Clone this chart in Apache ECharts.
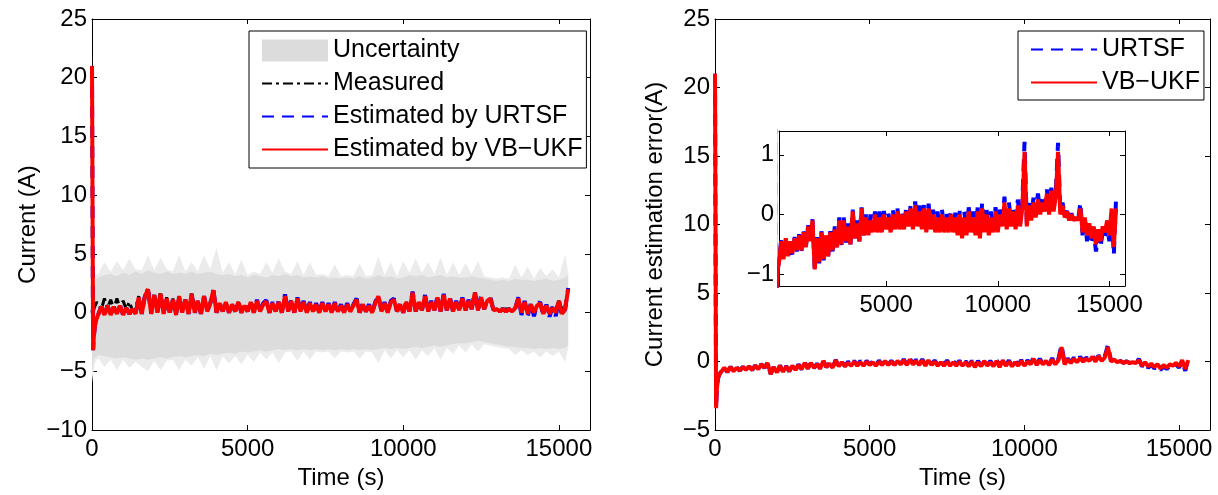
<!DOCTYPE html>
<html>
<head>
<meta charset="utf-8">
<script src="https://cdn.jsdelivr.net/npm/echarts@6/dist/echarts.min.js"></script>
<style>
  html, body { margin: 0; padding: 0; background: #fff; }
  #main { width: 1218px; height: 495px; }
</style>
</head>
<body>
<div id="main"></div>
<script>
var FONT = 'Liberation Sans, Arial, Helvetica, sans-serif';

// sample times (s) for the estimate / measurement curves
var time = [0, 15, 35, 60, 100, 150,
  200, 300, 400, 500, 600, 700, 800, 900, 1000, 1100,
  1200, 1300, 1400, 1500, 1600, 1700, 1800, 1900, 2000, 2100,
  2200, 2300, 2400, 2500, 2600, 2700, 2800, 2900, 3000, 3100,
  3200, 3300, 3400, 3500, 3600, 3700, 3800, 3900, 4000, 4100,
  4200, 4300, 4400, 4500, 4600, 4700, 4800, 4900, 5000, 5100,
  5200, 5300, 5400, 5500, 5600, 5700, 5800, 5900, 6000, 6100,
  6200, 6300, 6400, 6500, 6600, 6700, 6800, 6900, 7000, 7100,
  7200, 7300, 7400, 7500, 7600, 7700, 7800, 7900, 8000, 8100,
  8200, 8300, 8400, 8500, 8600, 8700, 8800, 8900, 9000, 9100,
  9200, 9300, 9400, 9500, 9600, 9700, 9800, 9900, 10000, 10100,
  10200, 10300, 10400, 10500, 10600, 10700, 10800, 10900, 11000, 11100,
  11200, 11300, 11400, 11500, 11600, 11700, 11800, 11900, 12000, 12100,
  12200, 12300, 12400, 12500, 12600, 12700, 12800, 12900, 13000, 13100,
  13200, 13300, 13400, 13500, 13600, 13700, 13800, 13900, 14000, 14100,
  14200, 14300, 14400, 14500, 14600, 14700, 14800, 14900, 15000, 15100,
  15200, 15300];

// left panel: current (A)
var measured = [0.0, 0.3, -0.5, 0.3, 0.6, 0.9,
  1.0, 0.3, 1.2, 0.4, 1.1, 0.3, 1.2, 0.4, 1.0, 0.3,
  0.9, 0.2, 0.3, 1.4, 0.2, 1.5, 2.1, 0.1, 1.6, 0.2,
  1.8, 0.1, 1.3, 0.2, 1.2, 0.0, 1.4, 0.1, 1.1, 0.0,
  1.6, 0.1, 1.0, 0.0, 1.4, 0.2, 0.8, 1.9, 0.1, 0.8,
  0.1, 0.9, 0.0, 0.7, 0.1, 0.9, 0.0, 0.6, 0.1, 0.9,
  0.0, 1.0, 0.1, 0.7, 0.95, 0.0, 0.8, 0.1, 0.9, 0.0,
  1.4, 0.1, 1.0, 0.0, 1.2, 0.1, 0.9, 0.0, 0.8, 0.1,
  0.7, 0.0, 0.8, 0.1, 0.7, 0.0, 0.8, 0.1, 0.6, 0.0,
  0.7, 0.1, 0.6, 1.1, 0.0, 0.7, 0.1, 0.6, 0.0, 0.8,
  1.4, 0.1, 0.8, 0.0, 0.9, 1.1, 0.1, 0.7, 0.0, 0.9,
  0.1, 1.7, 0.1, 0.9, 0.2, 1.4, 0.1, 0.9, 0.2, 1.3,
  0.1, 1.5, 0.2, 1.2, 0.1, 0.9, 0.2, 1.2, 0.2, 1.0,
  0.3, 1.7, 0.2, 1.3, 0.3, 1.0, 1.2, 0.2, 0.3, 0.3,
  0.3, 0.3, 0.3, 0.3, 0.4, 1.2, 0.1, 0.9, 0.1, 0.7,
  0.2, 0.6, 0.8, 0.3, 0.6, 0.3, 0.4, 0.3, 1.0, 0.3,
  0.3, 2.0];

var estURTSF = [21, 21, -3.2, -2.0, -1.0, -0.5,
  -0.4, 0.5, -0.2, 0.6, -0.2, 0.5, -0.1, 0.6, -0.2, 0.4,
  -0.1, 0.3, -0.1, 1.3, -0.1, 1.4, 2.0, -0.1, 1.5, 0.0,
  1.6, -0.1, 1.2, 0.0, 1.1, -0.2, 1.4, 0.0, 1.1, -0.1,
  1.6, 0.0, 1.0, -0.1, 1.4, 0.1, 0.8, 1.9, 0.0, 0.9,
  0.1, 1.0, 0.0, 0.8, 0.1, 1.0, 0.0, 0.7, 0.1, 1.0,
  0.0, 1.1, 0.1, 0.8, 1.05, 0.0, 0.9, 0.1, 1.0, 0.0,
  1.55, 0.1, 1.1, 0.0, 1.3, 0.1, 1.0, 0.0, 0.9, 0.1,
  0.8, 0.0, 0.9, 0.1, 0.8, 0.0, 0.9, 0.1, 0.7, 0.0,
  0.8, 0.1, 0.7, 1.2, 0.0, 0.8, 0.1, 0.7, 0.0, 0.9,
  1.5, 0.1, 0.9, 0.0, 1.0, 1.2, 0.1, 0.8, 0.0, 1.0,
  0.1, 1.8, 0.1, 1.0, 0.2, 1.5, 0.1, 1.0, 0.2, 1.4,
  0.1, 1.6, 0.2, 1.3, 0.1, 1.0, 0.2, 1.3, 0.2, 1.1,
  0.3, 1.8, 0.2, 1.4, 0.3, 1.1, 1.3, 0.2, 0.3, 0.1,
  0.3, 0.1, 0.3, 0.1, 0.4, 1.3, -0.2, 1.0, -0.3, 0.8,
  -0.3, 0.7, 0.9, -0.3, 0.7, -0.35, 0.5, -0.3, 1.1, -0.3,
  0.3, 2.1];

var estVBUKF = [21, 21, -3.2, -2.0, -1.0, -0.5,
  -0.4, 0.5, -0.2, 0.6, -0.2, 0.5, -0.1, 0.6, -0.2, 0.4,
  -0.1, 0.3, -0.1, 1.3, -0.1, 1.4, 2.0, -0.1, 1.5, 0.0,
  1.6, -0.1, 1.2, 0.0, 1.1, -0.2, 1.4, 0.0, 1.1, -0.1,
  1.6, 0.0, 1.0, -0.1, 1.4, 0.1, 0.8, 1.9, 0.0, 0.8,
  0.1, 0.9, 0.0, 0.7, 0.1, 0.9, 0.0, 0.6, 0.1, 0.9,
  0.0, 1.0, 0.1, 0.7, 0.95, 0.0, 0.8, 0.1, 0.9, 0.0,
  1.4, 0.1, 1.0, 0.0, 1.2, 0.1, 0.9, 0.0, 0.8, 0.1,
  0.7, 0.0, 0.8, 0.1, 0.7, 0.0, 0.8, 0.1, 0.6, 0.0,
  0.7, 0.1, 0.6, 1.1, 0.0, 0.7, 0.1, 0.6, 0.0, 0.8,
  1.4, 0.1, 0.8, 0.0, 0.9, 1.1, 0.1, 0.7, 0.0, 0.9,
  0.1, 1.7, 0.1, 0.9, 0.2, 1.4, 0.1, 0.9, 0.2, 1.3,
  0.1, 1.5, 0.2, 1.2, 0.1, 0.9, 0.2, 1.2, 0.2, 1.0,
  0.3, 1.7, 0.2, 1.3, 0.3, 1.0, 1.2, 0.2, 0.3, 0.1,
  0.3, 0.1, 0.3, 0.1, 0.4, 1.2, 0.0, 0.9, -0.1, 0.7,
  0.0, 0.6, 0.8, -0.1, 0.6, -0.1, 0.4, 0.0, 1.0, -0.1,
  0.3, 2.0];

// uncertainty band, sampled more coarsely
var bandTime = [0, 20, 50, 100,
  200, 400, 600, 800, 1000, 1200, 1400, 1600, 1800, 2000,
  2200, 2400, 2600, 2800, 3000, 3200, 3400, 3600, 3800, 4000,
  4200, 4400, 4600, 4800, 5000, 5200, 5400, 5600, 5800, 6000,
  6200, 6400, 6600, 6800, 7000, 7200, 7400, 7600, 7800, 8000,
  8200, 8400, 8600, 8800, 9000, 9200, 9400, 9600, 9800, 10000,
  10200, 10400, 10600, 10800, 11000, 11200, 11400, 11600, 11800, 12000,
  12200, 12400, 12600, 12800, 13000, 13200, 13400, 13600, 13800, 14000,
  14200, 14400, 14600, 14800, 15000, 15200, 15300];

var bandInnerHi = [22, 4, 3, 2.8,
  3.0, 3.2, 3.3, 3.1, 3.4, 3.2, 3.5, 3.3, 3.6, 3.4,
  3.3, 3.5, 3.3, 3.4, 3.3, 3.5, 3.3, 3.4, 3.5, 3.3,
  3.2, 3.3, 3.1, 3.2, 3.0, 3.2, 3.1, 3.0, 3.2, 3.1,
  3.3, 3.1, 3.2, 3.0, 3.1, 3.0, 3.1, 2.9, 3.0, 2.9,
  3.0, 2.9, 3.1, 2.9, 3.0, 3.2, 3.0, 3.1, 2.9, 3.0,
  3.2, 3.1, 3.2, 3.0, 3.1, 3.2, 3.0, 3.1, 3.0, 3.0,
  3.1, 3.0, 2.9, 2.8, 2.7, 2.8, 2.7, 2.9, 2.8, 2.8,
  2.7, 2.8, 2.9, 2.7, 2.8, 3.0, 3.2];

var bandInnerLo = [-5.5, -4.5, -4.0, -3.8,
  -3.6, -3.7, -3.8, -3.9, -3.8, -3.9, -4.0, -3.9, -4.0, -3.9,
  -3.8, -3.9, -3.8, -3.7, -3.8, -3.7, -3.6, -3.7, -3.5, -3.6,
  -3.5, -3.4, -3.5, -3.3, -3.4, -3.3, -3.2, -3.3, -3.2, -3.1,
  -3.2, -3.1, -3.2, -3.1, -3.2, -3.1, -3.2, -3.1, -3.2, -3.1,
  -3.2, -3.1, -3.2, -3.1, -3.2, -3.1, -3.0, -3.1, -3.0, -3.1,
  -3.0, -2.9, -3.0, -2.9, -2.8, -2.9, -2.8, -2.7, -2.6, -2.6,
  -2.5, -2.4, -2.5, -2.6, -2.7, -2.8, -2.9, -2.9, -3.0, -3.0,
  -3.1, -3.0, -3.1, -3.0, -3.1, -3.0, -2.8];

var bandOuterHi = [22.5, 5, 4, 3.2,
  3.3, 4.3, 3.5, 4.4, 3.6, 4.6, 3.7, 3.6, 4.9, 3.6,
  4.7, 3.7, 3.5, 4.9, 3.5, 4.3, 3.5, 4.9, 3.7, 5.5,
  3.4, 4.3, 3.3, 4.5, 3.2, 3.5, 3.3, 4.3, 3.4, 4.6,
  3.5, 3.3, 4.4, 3.2, 4.3, 3.2, 3.3, 3.1, 4.1, 3.1,
  3.2, 3.1, 4.2, 3.1, 3.2, 4.8, 3.2, 4.3, 3.1, 4.4,
  3.4, 4.6, 3.4, 4.3, 3.3, 4.7, 3.2, 4.3, 3.2, 4.2,
  3.3, 4.4, 3.1, 3.0, 2.9, 3.0, 2.9, 4.1, 3.0, 3.9,
  2.9, 3.8, 3.1, 3.7, 3.0, 5.0, 3.4];

var bandOuterLo = [-6, -5.5, -5.0, -4.2,
  -3.9, -4.6, -4.0, -4.9, -4.0, -4.7, -4.2, -4.6, -5.0, -4.1,
  -4.9, -4.1, -4.0, -4.9, -4.0, -4.5, -3.8, -4.8, -3.7, -4.9,
  -3.7, -4.3, -3.7, -4.4, -3.6, -4.2, -3.4, -4.0, -3.4, -4.3,
  -3.4, -3.3, -4.1, -3.3, -4.0, -3.3, -3.4, -3.3, -3.9, -3.3,
  -3.4, -3.3, -3.9, -3.3, -3.4, -4.3, -3.2, -3.9, -3.2, -3.8,
  -3.2, -4.0, -3.2, -3.7, -3.0, -4.0, -3.0, -3.5, -2.8, -3.4,
  -2.7, -3.3, -2.7, -2.8, -2.9, -3.0, -3.1, -3.6, -3.2, -3.6,
  -3.3, -3.8, -3.3, -3.7, -3.3, -4.2, -3.0];

// right panel: current estimation error (A)
var errURTSF = [21, 21, -3.4, -2.0, -1.2, -0.9,
  -0.8, -0.42, -0.78, -0.38, -0.72, -0.42, -0.68, -0.38, -0.62, -0.33,
  -0.62, -0.28, -0.57, -0.18, -0.47, -0.08, -0.9, -0.38, -0.82, -0.28,
  -0.77, -0.33, -0.72, -0.28, -0.62, -0.2, -0.57, -0.05, -0.52, -0.05,
  -0.47, -0.15, -0.5, 0.08, -0.4, -0.1, -0.45, 0.12, -0.35, 0.0,
  -0.33, 0.0, -0.28, 0.05, -0.28, 0.05, -0.28, 0.06, -0.23, 0.02,
  -0.28, 0.08, -0.23, 0.12, -0.23, 0.06, -0.22, 0.12, -0.18, 0.17,
  -0.22, 0.22, -0.18, 0.15, -0.22, 0.18, -0.25, 0.18, -0.2, 0.08,
  -0.25, 0.05, -0.25, 0.08, -0.25, 0.05, -0.25, 0.06, -0.25, 0.03,
  -0.3, 0.06, -0.35, 0.05, -0.3, 0.12, -0.25, 0.05, -0.3, 0.12,
  -0.35, 0.2, -0.25, 0.08, -0.3, 0.05, -0.25, 0.12, -0.25, 0.08,
  -0.15, 0.3, -0.2, 0.2, -0.15, 0.12, -0.2, 0.25, -0.15, 0.2,
  1.22, -0.15, 0.22, -0.05, 0.28, 0.02, 0.35, 0.08, 0.28, 0.12,
  0.42, 0.08, 0.45, 0.12, 0.38, 1.2, 0.05, 0.2, -0.02, 0.06,
  -0.1, 0.02, -0.1, -0.05, -0.1, 0.2, -0.35, -0.08, -0.45, -0.22,
  -0.5, -0.3, -0.62, -0.35, -0.55, -0.3, -0.4, -0.2, -0.45, 0.05,
  -0.68, 0.27];

var errVBUKF = [21, 21, -3.4, -2.0, -1.2, -0.9,
  -0.8, -0.45, -0.75, -0.4, -0.7, -0.45, -0.65, -0.4, -0.6, -0.35,
  -0.6, -0.3, -0.55, -0.2, -0.45, -0.1, -0.92, -0.4, -0.8, -0.3,
  -0.75, -0.35, -0.7, -0.3, -0.6, -0.25, -0.55, -0.1, -0.5, -0.1,
  -0.45, -0.2, -0.5, 0.05, -0.4, -0.15, -0.45, 0.1, -0.35, -0.05,
  -0.35, -0.1, -0.3, 0.0, -0.3, -0.05, -0.3, 0.0, -0.25, -0.05,
  -0.3, 0.0, -0.25, 0.05, -0.25, 0.0, -0.25, 0.05, -0.2, 0.1,
  -0.25, 0.15, -0.2, 0.05, -0.25, 0.1, -0.3, 0.1, -0.25, 0.0,
  -0.3, -0.05, -0.3, 0.0, -0.3, -0.05, -0.3, 0.0, -0.3, -0.05,
  -0.35, 0.0, -0.4, -0.05, -0.35, 0.05, -0.3, -0.05, -0.35, 0.05,
  -0.4, 0.1, -0.3, 0.0, -0.35, -0.05, -0.3, 0.05, -0.3, 0.0,
  -0.2, 0.2, -0.25, 0.1, -0.2, 0.05, -0.25, 0.15, -0.2, 0.1,
  1.05, -0.2, 0.15, -0.1, 0.2, -0.05, 0.25, 0.0, 0.2, 0.05,
  0.35, 0.0, 0.4, 0.05, 0.3, 1.05, 0.0, 0.15, -0.05, 0.05,
  -0.1, 0.0, -0.1, -0.05, -0.1, 0.1, -0.3, -0.05, -0.35, -0.15,
  -0.4, -0.2, -0.5, -0.25, -0.45, -0.2, -0.3, -0.1, -0.35, 0.1,
  -0.55, 0.1];

var mainTicksX = [0, 5000, 10000, 15000];
var insetTicksX = [5000, 10000, 15000];
var insetTicksY = [-1, 0, 1];

function pairs(xs, ys) {
  return xs.map(function (x, i) { return [x, ys[i]]; });
}
function fmt(v) { return String(v).replace('-', '\u2212'); }

var txt = { color: '#000', fontSize: 24, fontFamily: FONT };
var legendTxt = { color: '#000', fontSize: 25, lineHeight: 24, fontFamily: FONT };

function xAx(grid, pos, min, max, ticks, label, name) {
  return {
    type: 'value', gridIndex: grid, position: pos, min: min, max: max,
    name: name || '', nameLocation: 'middle', nameGap: 35, nameTextStyle: txt,
    axisLine: { show: true, onZero: false, lineStyle: { color: '#000', width: 1 } },
    axisTick: { show: true, inside: true, length: 5, customValues: ticks, lineStyle: { color: '#000' } },
    axisLabel: Object.assign({ show: label, customValues: ticks, margin: 7, formatter: fmt }, txt),
    splitLine: { show: false }
  };
}
function yAx(grid, pos, min, max, ticks, interval, label, name, gap) {
  var a = {
    type: 'value', gridIndex: grid, position: pos, min: min, max: max,
    name: name || '', nameLocation: 'middle', nameGap: gap || 50, nameTextStyle: txt,
    axisLine: { show: true, onZero: false, lineStyle: { color: '#000', width: 1 } },
    axisTick: { show: true, inside: true, length: 5, lineStyle: { color: '#000' } },
    axisLabel: Object.assign({ show: label, margin: 5, formatter: fmt }, txt),
    splitLine: { show: false }
  };
  if (ticks) { a.axisTick.customValues = ticks; a.axisLabel.customValues = ticks; }
  if (interval) { a.interval = interval; }
  return a;
}

function lineSeries(name, xi, yi, xs, ys, color, width, type, z) {
  return {
    name: name, type: 'line', xAxisIndex: xi, yAxisIndex: yi,
    data: pairs(xs, ys), symbol: 'none', z: z, clip: true,
    itemStyle: { color: color },
    lineStyle: { color: color, width: width, type: type }
  };
}
// filled band between lo and hi, drawn through the axis scales
function bandSeries(name, hi, lo, fill) {
  return {
    name: name, type: 'custom', xAxisIndex: 0, yAxisIndex: 0, z: 1, silent: true,
    data: [[bandTime[0], lo[0]]],
    itemStyle: { color: fill },
    renderItem: function (params, api) {
      var pts = [];
      for (var i = 0; i < bandTime.length; i++) pts.push(api.coord([bandTime[i], hi[i]]));
      for (var j = bandTime.length - 1; j >= 0; j--) pts.push(api.coord([bandTime[j], lo[j]]));
      return { type: 'polygon', shape: { points: pts }, style: { fill: fill } };
    }
  };
}

var chart = echarts.init(document.getElementById('main'));
chart.setOption({
  animation: false,
  backgroundColor: '#fff',
  grid: [
    { left: 92, top: 19, width: 498, height: 413 },
    { left: 715, top: 19, width: 495, height: 414 },
    { left: 779, top: 131, width: 346, height: 155 }
  ],
  legend: [{
    orient: 'vertical', left: 249, top: 31,
    itemWidth: 66, itemHeight: 22, itemGap: 8,
    padding: [7, 4, 6, 12],
    borderColor: '#000', borderWidth: 1, backgroundColor: '#fff',
    textStyle: legendTxt,
    itemStyle: { opacity: 0 },
    data: [{ name: 'Uncertainty', icon: 'rect', itemStyle: { opacity: 1, color: '#dcdcdc' } },
      'Measured', 'Estimated by URTSF', 'Estimated by VB\u2212UKF']
  }, {
    orient: 'vertical', left: 1018, top: 31,
    itemWidth: 66, itemHeight: 22, itemGap: 8,
    padding: [6, 4, 5, 12],
    borderColor: '#000', borderWidth: 1, backgroundColor: '#fff',
    textStyle: legendTxt,
    itemStyle: { opacity: 0 },
    data: ['URTSF', 'VB\u2212UKF']
  }],
  xAxis: [
    xAx(0, 'bottom', 0, 16000, mainTicksX, true, 'Time (s)'),
    xAx(0, 'top', 0, 16000, mainTicksX, false),
    xAx(1, 'bottom', 0, 16000, mainTicksX, true, 'Time (s)'),
    xAx(1, 'top', 0, 16000, mainTicksX, false),
    xAx(2, 'bottom', 200, 15700, insetTicksX, true),
    xAx(2, 'top', 200, 15700, insetTicksX, false)
  ],
  yAxis: [
    yAx(0, 'left', -10, 25, null, 5, true, 'Current (A)', 52),
    yAx(0, 'right', -10, 25, null, 5, false),
    yAx(1, 'left', -5, 25, null, 5, true, 'Current estimation error(A)', 48),
    yAx(1, 'right', -5, 25, null, 5, false),
    yAx(2, 'left', -1.2, 1.4, insetTicksY, null, true),
    yAx(2, 'right', -1.2, 1.4, insetTicksY, null, false)
  ],
  series: [
    bandSeries('bandOuter', bandOuterHi, bandOuterLo, '#ebebeb'),
    bandSeries('Uncertainty', bandInnerHi, bandInnerLo, '#dcdcdc'),
    lineSeries('Measured', 0, 0, time, measured, '#000', 3, [10, 4, 3, 4], 3),
    lineSeries('Estimated by URTSF', 0, 0, time, estURTSF, '#0000ff', 4, [12, 8], 4),
    lineSeries('Estimated by VB\u2212UKF', 0, 0, time, estVBUKF, '#ff0000', 4, 'solid', 5),
    lineSeries('URTSF', 2, 2, time, errURTSF, '#0000ff', 4, [12, 8], 4),
    lineSeries('VB\u2212UKF', 2, 2, time, errVBUKF, '#ff0000', 4, 'solid', 5),
    lineSeries('URTSF', 4, 4, time, errURTSF, '#0000ff', 4, [12, 8], 4),
    lineSeries('VB\u2212UKF', 4, 4, time, errVBUKF, '#ff0000', 4, 'solid', 5)
  ]
});
</script>
</body>
</html>
